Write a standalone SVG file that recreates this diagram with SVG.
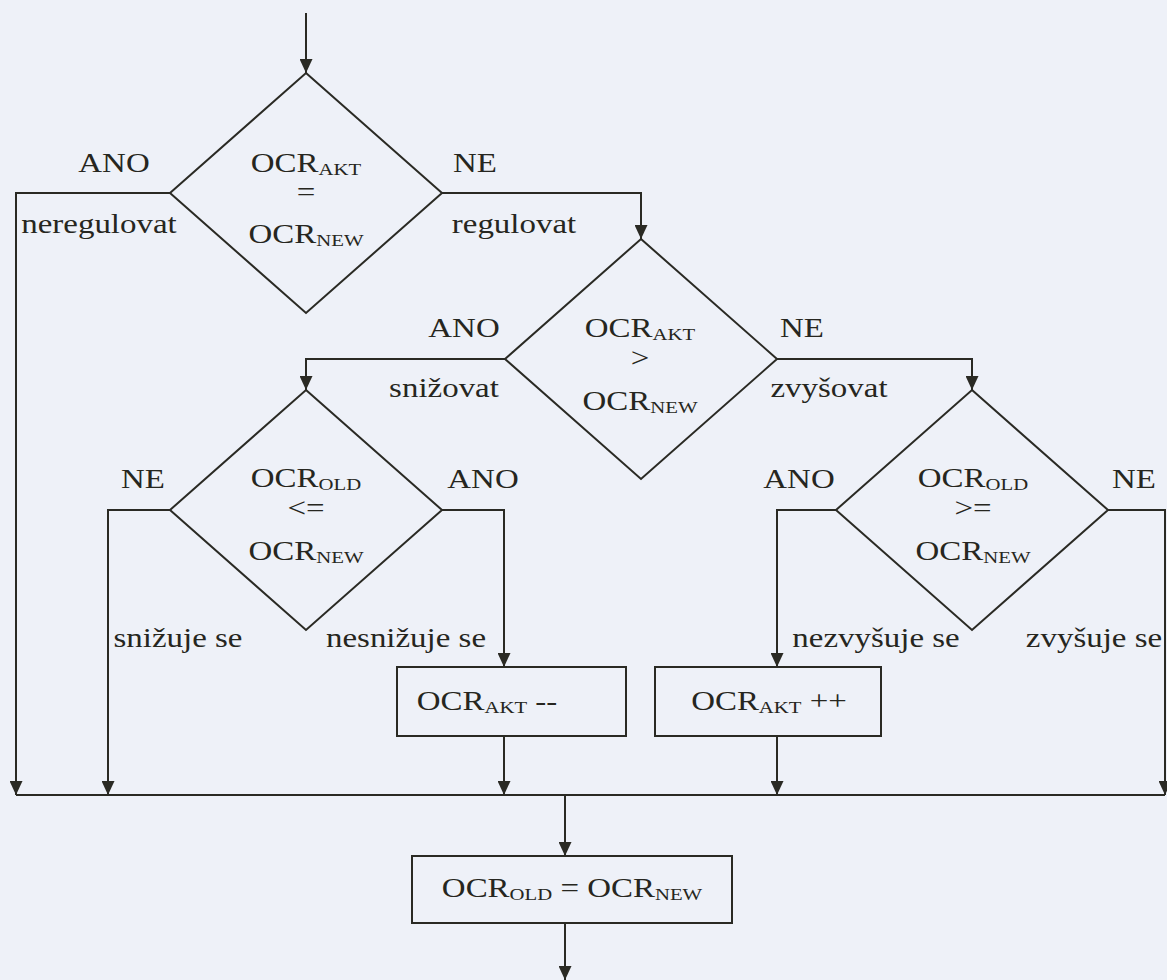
<svg xmlns="http://www.w3.org/2000/svg" width="1167" height="980" viewBox="0 0 1167 980">
  <style>
    .bg { fill: #eef1f8; }
    .shape { fill: none; stroke: #2a2a24; stroke-width: 2; stroke-linejoin: miter; }
    .wire { fill: none; stroke: #2a2a24; stroke-width: 2; }
    .arrow { marker-end: url(#head); }
    text { font-family: "Liberation Serif", "Times New Roman", serif; font-size: 27px; fill: #262620; text-anchor: middle; }
    .sub { font-size: 17px; }
  </style>
  <defs>
    <marker id="head" markerUnits="userSpaceOnUse" markerWidth="14" markerHeight="13" refX="14" refY="6.5" orient="auto">
      <path d="M0,0 L14,6.5 L0,13 Z" fill="#2a2a24"/>
    </marker>
  </defs>

  <rect class="bg" x="0" y="0" width="1167" height="980"/>

  <!-- connectors -->
  <g id="connectors">
    <path class="wire arrow" d="M306,13 V73"/>
    <path class="wire arrow" d="M170,193 H16 V795"/>
    <path class="wire arrow" d="M442,193 H641 V239"/>
    <path class="wire arrow" d="M505,359 H306 V390"/>
    <path class="wire arrow" d="M777,359 H972 V390"/>
    <path class="wire arrow" d="M170,510 H108 V795"/>
    <path class="wire arrow" d="M442,510 H504 V667"/>
    <path class="wire arrow" d="M836,510 H777 V667"/>
    <path class="wire arrow" d="M1108,510 H1165 V795"/>
    <path class="wire arrow" d="M504,736 V795"/>
    <path class="wire arrow" d="M777,736 V795"/>
    <path class="wire" d="M16,795 H1165"/>
    <path class="wire arrow" d="M565,795 V856"/>
    <path class="wire arrow" d="M565,923 V980"/>
  </g>

  <!-- branch labels -->
  <g id="labels">
    <text transform="translate(114,172) scale(1.22,1)">ANO</text>
    <text transform="translate(475,172) scale(1.22,1)">NE</text>
    <text transform="translate(99,233) scale(1.22,1)">neregulovat</text>
    <text transform="translate(514,233) scale(1.22,1)">regulovat</text>

    <text transform="translate(464,337) scale(1.22,1)">ANO</text>
    <text transform="translate(802,337) scale(1.22,1)">NE</text>
    <text transform="translate(444,397) scale(1.22,1)">snižovat</text>
    <text transform="translate(829,397) scale(1.22,1)">zvyšovat</text>

    <text transform="translate(143,488) scale(1.22,1)">NE</text>
    <text transform="translate(483,488) scale(1.22,1)">ANO</text>
    <text transform="translate(799,488) scale(1.22,1)">ANO</text>
    <text transform="translate(1134,488) scale(1.22,1)">NE</text>

    <text transform="translate(178,647) scale(1.22,1)">snižuje se</text>
    <text transform="translate(406,647) scale(1.22,1)">nesnižuje se</text>
    <text transform="translate(876,647) scale(1.22,1)">nezvyšuje se</text>
    <text transform="translate(1094,647) scale(1.22,1)">zvyšuje se</text>
  </g>

  <!-- decision: OCR_AKT = OCR_NEW -->
  <g id="d-equal">
    <polygon class="shape" points="306,73 442,193 306,313 170,193"/>
    <text transform="translate(306,172) scale(1.22,1)">OCR<tspan class="sub" dy="3">AKT</tspan></text>
    <text transform="translate(306,201) scale(1.22,1)">=</text>
    <text transform="translate(306,243) scale(1.22,1)">OCR<tspan class="sub" dy="3">NEW</tspan></text>
  </g>

  <!-- decision: OCR_AKT > OCR_NEW -->
  <g id="d-greater">
    <polygon class="shape" points="641,239 777,359 641,479 505,359"/>
    <text transform="translate(640,337) scale(1.22,1)">OCR<tspan class="sub" dy="3">AKT</tspan></text>
    <text transform="translate(640,367) scale(1.22,1)">&gt;</text>
    <text transform="translate(640,410) scale(1.22,1)">OCR<tspan class="sub" dy="3">NEW</tspan></text>
  </g>

  <!-- decision: OCR_OLD <= OCR_NEW -->
  <g id="d-less-equal">
    <polygon class="shape" points="306,390 442,510 306,630 170,510"/>
    <text transform="translate(306,487) scale(1.22,1)">OCR<tspan class="sub" dy="3">OLD</tspan></text>
    <text transform="translate(306,517) scale(1.22,1)">&lt;=</text>
    <text transform="translate(306,560) scale(1.22,1)">OCR<tspan class="sub" dy="3">NEW</tspan></text>
  </g>

  <!-- decision: OCR_OLD >= OCR_NEW -->
  <g id="d-greater-equal">
    <polygon class="shape" points="972,390 1108,510 972,630 836,510"/>
    <text transform="translate(973,487) scale(1.22,1)">OCR<tspan class="sub" dy="3">OLD</tspan></text>
    <text transform="translate(973,517) scale(1.22,1)">&gt;=</text>
    <text transform="translate(973,560) scale(1.22,1)">OCR<tspan class="sub" dy="3">NEW</tspan></text>
  </g>

  <!-- process: decrement -->
  <g id="p-decrement">
    <rect class="shape" x="397" y="667" width="229" height="69"/>
    <text transform="translate(487,710) scale(1.22,1)">OCR<tspan class="sub" dy="3">AKT</tspan><tspan dy="-3"> --</tspan></text>
  </g>

  <!-- process: increment -->
  <g id="p-increment">
    <rect class="shape" x="655" y="667" width="226" height="69"/>
    <text transform="translate(769,710) scale(1.22,1)">OCR<tspan class="sub" dy="3">AKT</tspan><tspan dy="-3"> ++</tspan></text>
  </g>

  <!-- process: store new value -->
  <g id="p-store">
    <rect class="shape" x="412" y="856" width="320" height="67"/>
    <text transform="translate(572,897) scale(1.22,1)">OCR<tspan class="sub" dy="3">OLD</tspan><tspan dy="-3"> = OCR</tspan><tspan class="sub" dy="3">NEW</tspan></text>
  </g>
</svg>
